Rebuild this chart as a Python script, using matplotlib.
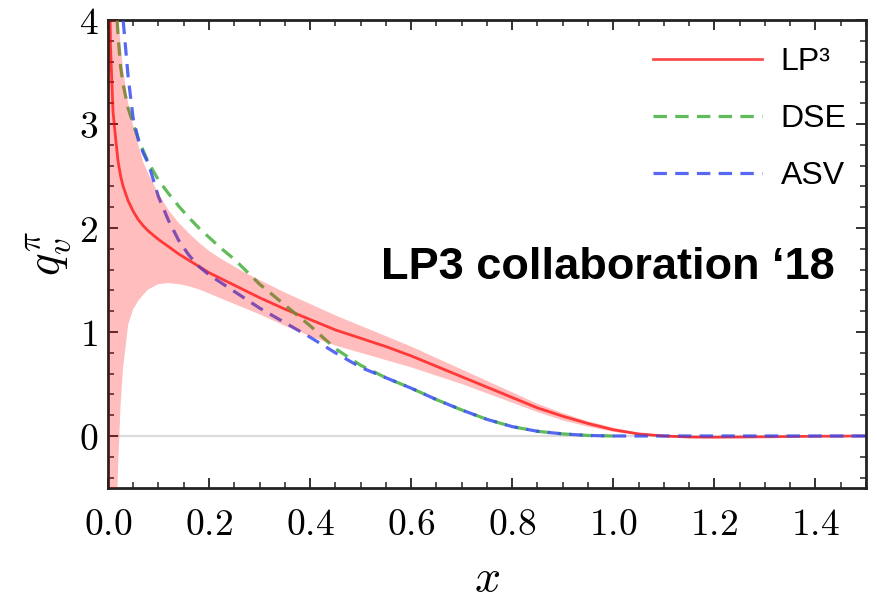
import matplotlib
matplotlib.use("Agg")
import matplotlib.pyplot as plt
from matplotlib.ticker import MultipleLocator, FixedLocator

plt.rcParams["mathtext.fontset"] = "cm"

# shared momentum-fraction grid
x = [0.002, 0.005, 0.01, 0.015, 0.02, 0.025, 0.03, 0.04, 0.05, 0.06, 0.07, 0.08,
     0.1, 0.12, 0.14, 0.16, 0.18, 0.2, 0.225, 0.25, 0.275, 0.3, 0.35, 0.4, 0.45,
     0.5, 0.55, 0.6, 0.65, 0.7, 0.75, 0.8, 0.85, 0.9, 0.95, 1.0, 1.05, 1.1, 1.15,
     1.2, 1.3, 1.4, 1.5]

# LP3 central value and error band
lp3 = [5.0, 3.75, 3.12, 2.87, 2.64, 2.50, 2.40, 2.26, 2.16, 2.08, 2.02, 1.97,
       1.89, 1.82, 1.75, 1.69, 1.63, 1.57, 1.51, 1.45, 1.39, 1.33, 1.22, 1.12, 1.02,
       0.94, 0.86, 0.77, 0.67, 0.57, 0.47, 0.37, 0.27, 0.19, 0.12, 0.06, 0.02, 0.0, -0.01,
       -0.012, -0.008, -0.003, 0.0]
lp3_hi = [12.0, 7.5, 5.3, 4.5, 4.05, 3.75, 3.52, 3.2, 2.98, 2.8, 2.63, 2.52,
          2.33, 2.17, 2.05, 1.95, 1.86, 1.78, 1.70, 1.63, 1.56, 1.50, 1.38, 1.27, 1.16,
          1.06, 0.96, 0.86, 0.75, 0.64, 0.53, 0.42, 0.31, 0.22, 0.14, 0.08, 0.03, 0.01, 0.0,
          -0.005, -0.004, -0.001, 0.0]
lp3_lo = [-3.0, -2.0, -1.5, -1.2, -0.3, 0.3, 0.66, 1.07, 1.22, 1.30, 1.36, 1.41,
          1.46, 1.47, 1.46, 1.44, 1.41, 1.37, 1.32, 1.27, 1.22, 1.17, 1.06, 0.96, 0.87,
          0.80, 0.73, 0.66, 0.58, 0.50, 0.41, 0.32, 0.23, 0.15, 0.09, 0.04, 0.01, -0.01, -0.02,
          -0.02, -0.012, -0.005, 0.0]

# model curves
x_dse = [0.01, 0.015, 0.02, 0.025, 0.03, 0.04, 0.05, 0.06, 0.07, 0.08, 0.1, 0.12,
         0.14, 0.16, 0.18, 0.2, 0.225, 0.25, 0.275, 0.3, 0.35, 0.4, 0.45, 0.5, 0.55,
         0.6, 0.65, 0.7, 0.75, 0.8, 0.85, 0.9, 0.95, 1.0]
dse = [5.0, 4.25, 3.85, 3.55, 3.38, 3.15, 3.0, 2.86, 2.74, 2.63, 2.46, 2.33,
       2.21, 2.10, 2.0, 1.91, 1.80, 1.70, 1.58, 1.46, 1.26, 1.06, 0.84, 0.68, 0.56,
       0.46, 0.35, 0.25, 0.16, 0.09, 0.045, 0.02, 0.005, 0.0]

x_asv = [0.01, 0.015, 0.02, 0.025, 0.03, 0.04, 0.05, 0.06, 0.07, 0.08, 0.1, 0.12,
         0.14, 0.16, 0.18, 0.2, 0.225, 0.25, 0.275, 0.3, 0.35, 0.4, 0.45, 0.5, 0.55,
         0.6, 0.65, 0.7, 0.75, 0.8, 0.85, 0.9, 0.95, 1.0, 1.1, 1.2, 1.3, 1.4, 1.5]
asv = [7.0, 5.6, 4.8, 4.35, 4.0, 3.45, 3.05, 2.85, 2.72, 2.62, 2.30, 2.07,
       1.88, 1.74, 1.63, 1.55, 1.47, 1.39, 1.31, 1.23, 1.09, 0.95, 0.80, 0.66, 0.56,
       0.46, 0.35, 0.25, 0.16, 0.09, 0.045, 0.02, 0.005, 0.0, 0.0, 0.0, 0.0, 0.0, 0.0]

x_ticks = [0.0, 0.2, 0.4, 0.6, 0.8, 1.0, 1.2, 1.4]
y_ticks = [0, 1, 2, 3, 4]

red = "#ff0000"
green = "#4fb548"
blue = "#3a4ff0"

fig = plt.figure(figsize=(8.77, 6.08), dpi=100)
ax = fig.add_axes([0.1231, 0.1974, 0.8643, 0.7697])

ax.axhline(0, color="#dcdcdc", lw=1.6, zorder=1)

ax.plot(x, lp3, color=red, alpha=0.7, lw=2.0, zorder=2, label="LP\u00b3")
ax.plot(x_dse, dse, color=green, lw=2.3, dashes=(4.2, 2.6), alpha=0.9, zorder=3, label="DSE")
ax.plot(x_asv, asv, color=blue, lw=2.3, dashes=(4.2, 2.6), alpha=0.85, zorder=3, label="ASV")
ax.fill_between(x, lp3_lo, lp3_hi, color=red, alpha=0.26, lw=0, zorder=4)

ax.set_xlim(0, 1.5)
ax.set_ylim(-0.5, 4)

ax.xaxis.set_major_locator(FixedLocator(x_ticks))
ax.yaxis.set_major_locator(FixedLocator(y_ticks))
ax.xaxis.set_minor_locator(MultipleLocator(0.05))
ax.yaxis.set_minor_locator(MultipleLocator(0.2))
ax.set_xticklabels([f"${v:.1f}$" for v in x_ticks], fontsize=27)
ax.set_yticklabels([f"${v}$" for v in y_ticks], fontsize=27)

ax.tick_params(which="both", direction="in", top=True, right=True, color="#222222")
ax.tick_params(which="major", length=7, width=1.3)
ax.tick_params(which="minor", length=4, width=1.1)
ax.tick_params(axis="x", which="major", pad=14)
ax.tick_params(axis="y", which="major", pad=7)
for s in ax.spines.values():
    s.set_linewidth(2.0)
    s.set_color("#222222")

ax.set_xlabel("$x$", fontsize=33, labelpad=9)
ax.set_ylabel(r"$q_v^\pi$", fontsize=34, labelpad=4)

leg = ax.legend(loc="upper left", bbox_to_anchor=(0.719, 0.942), frameon=False,
                borderpad=0, borderaxespad=0, handlelength=3.4, handletextpad=0.6,
                labelspacing=0.84, prop={"family": "Liberation Sans", "size": 23})

ax.text(0.99, 1.62, "LP3 collaboration \u201818", fontsize=32.5, fontweight="bold",
        family="Liberation Sans", ha="center", va="center", zorder=6)

fig.savefig("out.png", dpi=100)
